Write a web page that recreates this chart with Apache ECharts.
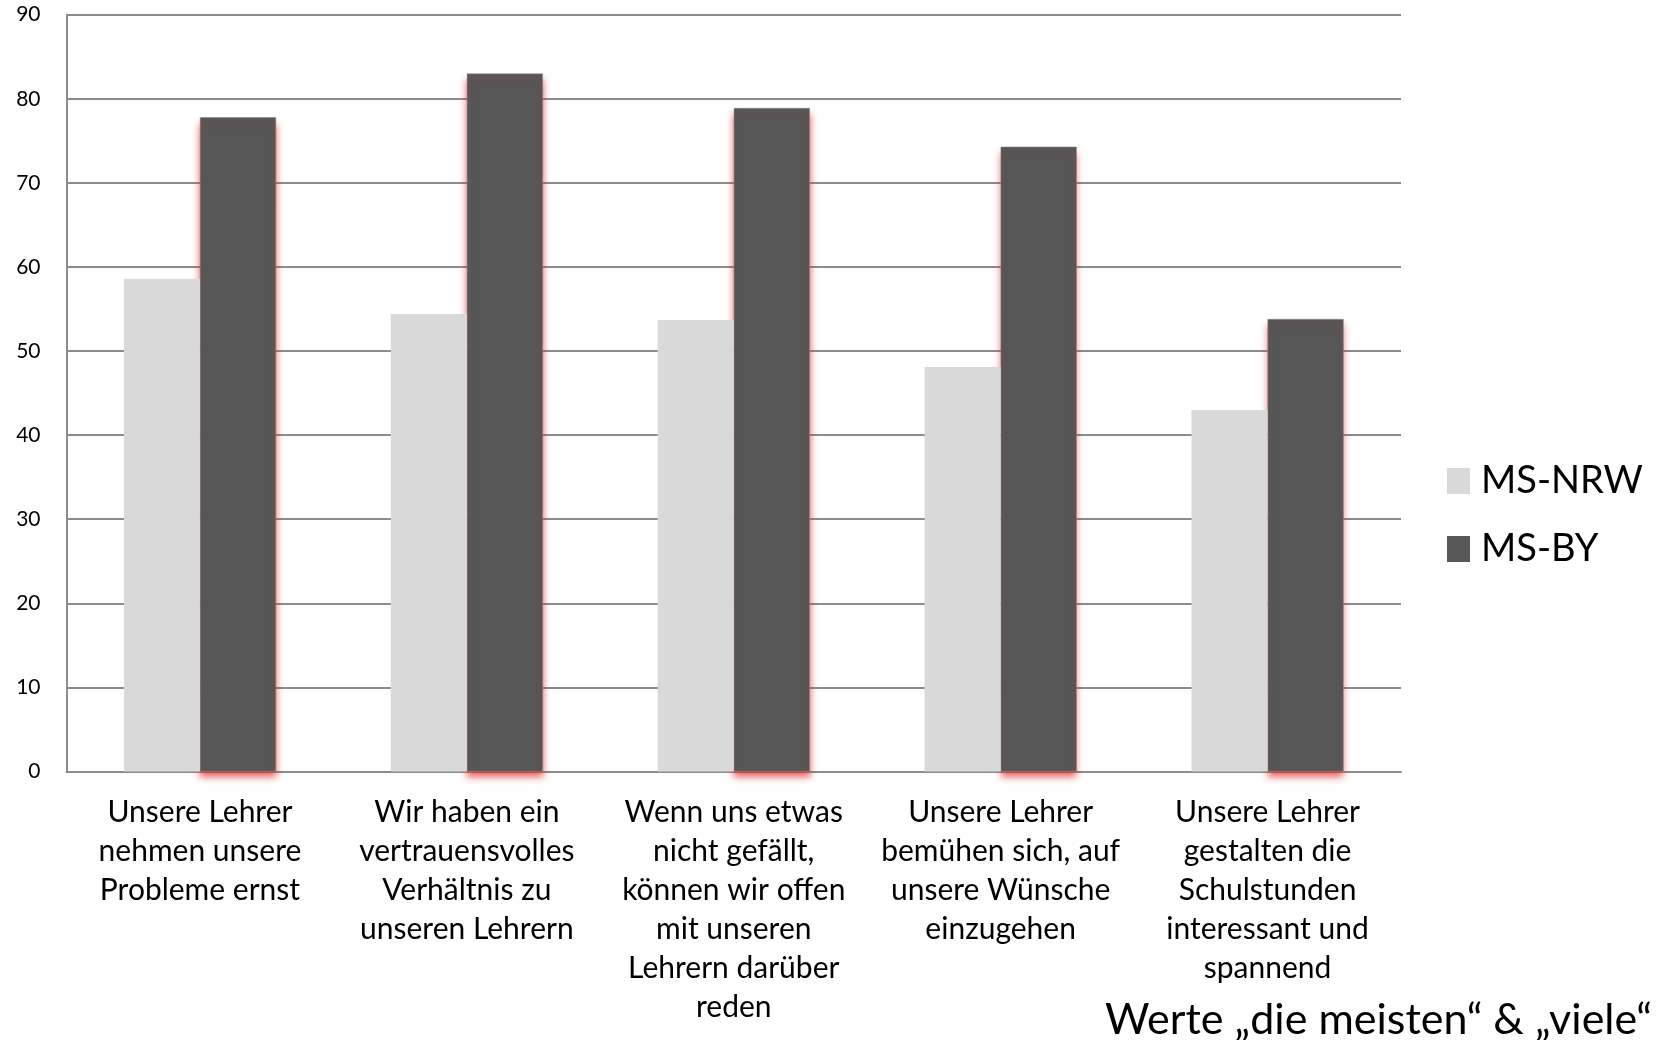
<!DOCTYPE html>
<html>
<head>
<meta charset="utf-8">
<script src="https://cdn.jsdelivr.net/npm/echarts@6/dist/echarts.min.js"></script>
<style>
  html, body { margin: 0; padding: 0; background: #ffffff; }
  #chart { width: 1658px; height: 1040px; }
</style>
</head>
<body>
<div id="chart"></div>
<script>
const categories = [
  "Unsere Lehrer\nnehmen unsere\nProbleme ernst",
  "Wir haben ein\nvertrauensvolles\nVerhältnis zu\nunseren Lehrern",
  "Wenn uns etwas\nnicht gefällt,\nkönnen wir offen\nmit unseren\nLehrern darüber\nreden",
  "Unsere Lehrer\nbemühen sich, auf\nunsere Wünsche\neinzugehen",
  "Unsere Lehrer\ngestalten die\nSchulstunden\ninteressant und\nspannend"
];
const seriesNames = ["MS-NRW", "MS-BY"];
const valuesNRW = [58.6, 54.4, 53.7, 48.1, 43.0];
const valuesBY = [77.8, 83.0, 78.9, 74.3, 53.8];
const yTicks = { min: 0, max: 90, interval: 10 };
const footnote = "Werte \u201Edie meisten\u201C & \u201Eviele\u201C";

const FONT = "Lato, 'Open Sans', sans-serif";
const chart = echarts.init(document.getElementById('chart'), null, { renderer: 'canvas' });

chart.setOption({
  backgroundColor: '#ffffff',
  animation: false,
  textStyle: { fontFamily: FONT, color: '#000' },
  grid: { left: 66.5, right: 257, top: 14.7, bottom: 268.5, containLabel: false },
  legend: {
    data: seriesNames,
    orient: 'vertical',
    left: 1442,
    top: 457,
    itemWidth: 23,
    itemHeight: 26,
    itemGap: 30,
    icon: 'rect',
    itemStyle: { borderWidth: 0, shadowBlur: 0, shadowOffsetY: 0 },
    textStyle: { fontFamily: FONT, fontSize: 38, color: '#000', padding: [0, 0, 0, 6] }
  },
  xAxis: {
    type: 'category',
    data: categories,
    axisLine: { show: true, lineStyle: { color: '#8c8c8c', width: 2 } },
    axisTick: { show: false },
    axisLabel: {
      interval: 0,
      margin: 21,
      fontFamily: FONT,
      fontSize: 30,
      lineHeight: 39,
      color: '#000',
      align: 'center'
    }
  },
  yAxis: {
    type: 'value',
    min: yTicks.min,
    max: yTicks.max,
    interval: yTicks.interval,
    axisLine: { show: true, lineStyle: { color: '#8c8c8c', width: 2 } },
    axisTick: { show: false },
    splitLine: { show: true, lineStyle: { color: '#8c8c8c', width: 2 } },
    axisLabel: { margin: 26, fontFamily: FONT, fontSize: 21, color: '#000' }
  },
  series: [
    {
      name: seriesNames[0],
      type: 'bar',
      data: valuesNRW,
      barGap: '0%',
      barCategoryGap: '43%',
      z: 3,
      itemStyle: { color: '#d9d9d9' }
    },
    {
      name: seriesNames[1],
      type: 'bar',
      data: valuesBY,
      barGap: '0%',
      barCategoryGap: '43%',
      z: 2,
      itemStyle: {
        color: '#575757',
        borderColor: '#8a8a8a',
        borderWidth: 0.5,
        shadowColor: 'rgba(225, 40, 40, 0.75)',
        shadowBlur: 7,
        shadowOffsetY: 6
      }
    }
  ],
  graphic: [
    {
      type: 'text',
      right: 6,
      top: 999,
      style: {
        text: footnote,
        fontFamily: FONT,
        fontSize: 43,
        fill: '#000'
      }
    }
  ]
});
</script>
</body>
</html>
